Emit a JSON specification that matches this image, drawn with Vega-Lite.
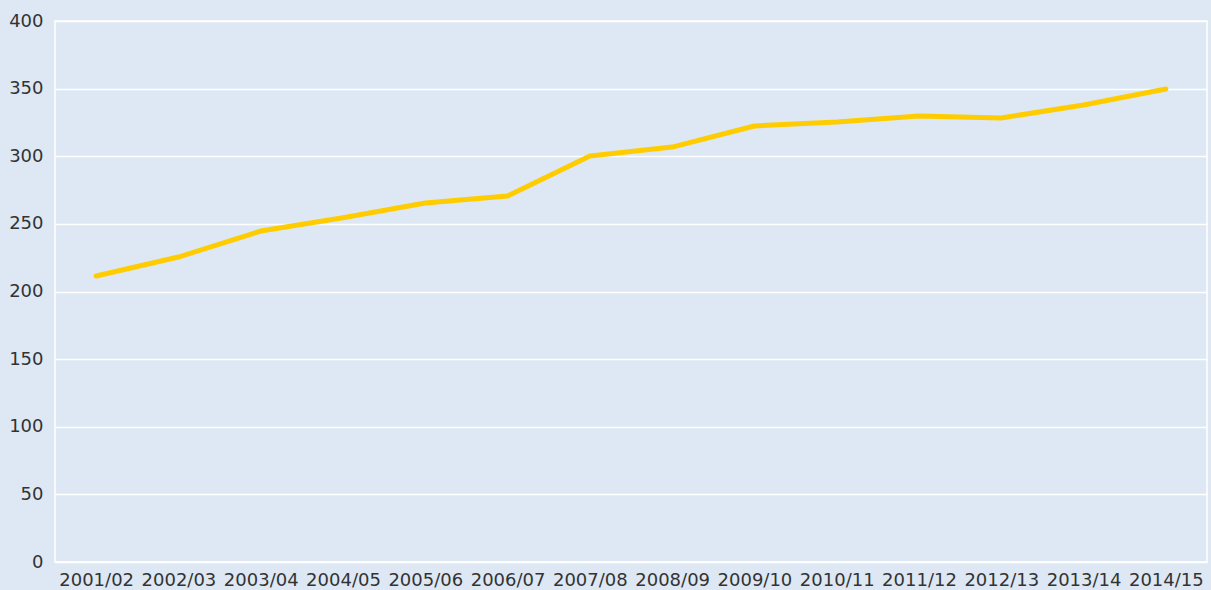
{
  "$schema": "https://vega.github.io/schema/vega-lite/v6.json",
  "width": 1152,
  "height": 541,
  "autosize": "none",
  "padding": {"left": 55, "top": 21, "right": 4, "bottom": 28},
  "background": "#dde8f4",
  "config": {
    "view": {"stroke": "#ffffff", "strokeWidth": 1.5, "fill": "#dde8f4"},
    "axis": {"labelFont": "DejaVu Sans", "labelFontSize": 18, "labelColor": "#333333", "domain": false, "ticks": false, "title": null}
  },
  "data": {"values": [
    {"year": "2001/02", "value": 211.5},
    {"year": "2002/03", "value": 225.5},
    {"year": "2003/04", "value": 244.7},
    {"year": "2004/05", "value": 254.5},
    {"year": "2005/06", "value": 265.4},
    {"year": "2006/07", "value": 270.6},
    {"year": "2007/08", "value": 300.2},
    {"year": "2008/09", "value": 306.8},
    {"year": "2009/10", "value": 322.4},
    {"year": "2010/11", "value": 325.3},
    {"year": "2011/12", "value": 329.8},
    {"year": "2012/13", "value": 328.3},
    {"year": "2013/14", "value": 337.9},
    {"year": "2014/15", "value": 349.7}
  ]},
  "mark": {"type": "line", "color": "#ffcc00", "strokeWidth": 5, "strokeCap": "round", "strokeJoin": "round"},
  "encoding": {
    "x": {"field": "year", "type": "ordinal", "scale": {"paddingInner": 0, "paddingOuter": 0.5}, "axis": {"labelAngle": 0, "grid": false, "labelPadding": 9}},
    "y": {"field": "value", "type": "quantitative", "scale": {"domain": [0, 400]}, "axis": {"values": [0, 50, 100, 150, 200, 250, 300, 350, 400], "grid": true, "gridColor": "#ffffff", "gridWidth": 1.5, "gridOpacity": 1, "labelPadding": 12}}
  }
}
